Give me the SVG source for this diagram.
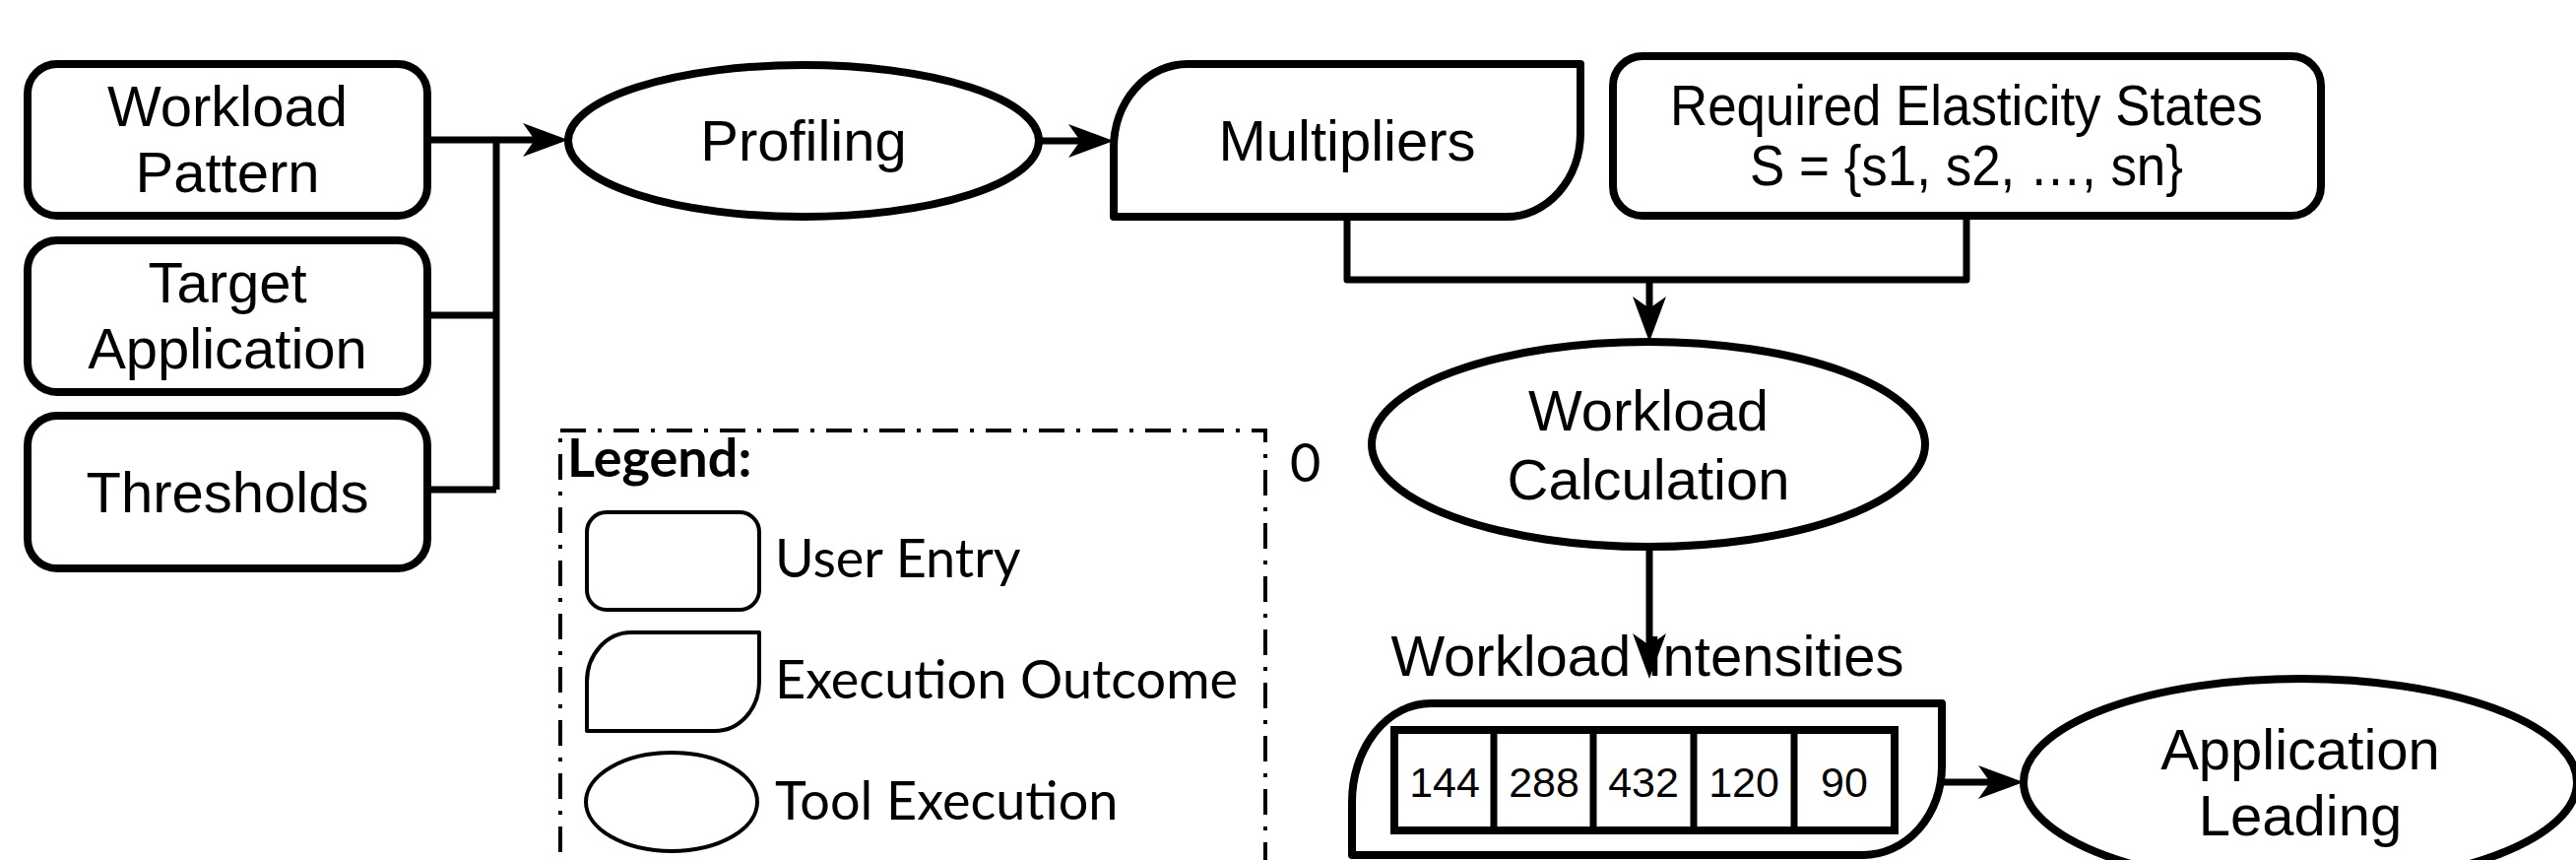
<svg xmlns="http://www.w3.org/2000/svg" width="2616" height="873" viewBox="0 0 2616 873">
<style>
.node{fill:#fff;stroke:#000;stroke-width:8;stroke-linejoin:round}
.leg{fill:#fff;stroke:#000;stroke-width:4;stroke-linejoin:round}
.conn{fill:none;stroke:#000;stroke-width:7;stroke-linejoin:round}
.t{font-family:"Liberation Sans",Arial,sans-serif;font-size:58px;fill:#000;text-anchor:middle}
.cell{font-family:"Liberation Sans",Arial,sans-serif;font-size:43px;fill:#000;text-anchor:middle}
.lt{font-family:Lato,"Open Sans",sans-serif;font-size:54px;fill:#000}
</style>
<defs>
<marker id="arr" markerUnits="userSpaceOnUse" markerWidth="48" markerHeight="36" refX="21" refY="17" orient="auto" overflow="visible">
<path d="M0,0 L46,17 L0,34 L12,17 Z" fill="#000"/>
</marker>
</defs>
<rect width="2616" height="873" fill="#fff"/>

<g id="connectors">
<path class="conn" d="M434,142 H552" marker-end="url(#arr)"/>
<path class="conn" d="M504,497 V142"/>
<path class="conn" d="M434,320 H504"/>
<path class="conn" d="M434,497 H504"/>
<path class="conn" d="M1056,143 H1106" marker-end="url(#arr)"/>
<path class="conn" d="M1368,220 V284 H1997 V219"/>
<path class="conn" d="M1675,284 V322" marker-end="url(#arr)"/>
<path class="conn" d="M1675,555 V664" marker-end="url(#arr)"/>
<path class="conn" d="M1972,794 H2030" marker-end="url(#arr)"/>
</g>

<g id="workload-pattern">
<rect class="node" x="28" y="65" width="406" height="154" rx="30"/>
<text class="t" x="231" y="128">Workload</text>
<text class="t" x="231" y="195">Pattern</text>
</g>
<g id="target-application">
<rect class="node" x="28" y="244" width="406" height="154" rx="30"/>
<text class="t" x="231" y="307">Target</text>
<text class="t" x="231" y="374">Application</text>
</g>
<g id="thresholds">
<rect class="node" x="28" y="422" width="406" height="155" rx="30"/>
<text class="t" x="231" y="520">Thresholds</text>
</g>

<g id="profiling">
<ellipse class="node" cx="816" cy="143" rx="239" ry="77"/>
<text class="t" x="816" y="163">Profiling</text>
</g>

<g id="multipliers">
<path class="node" d="M1131,220 L1131,150 A75,85 0 0 1 1206,65 L1605,65 L1605,135 A75,85 0 0 1 1530,220 Z"/>
<text class="t" x="1368" y="163">Multipliers</text>
</g>

<g id="required-elasticity-states">
<rect class="node" x="1638" y="57" width="719" height="162" rx="30"/>
<text class="t" x="1997" y="127" font-size="52" textLength="602" lengthAdjust="spacingAndGlyphs">Required Elasticity States</text>
<text class="t" x="1997" y="188" font-size="52" textLength="440" lengthAdjust="spacingAndGlyphs">S = {s1, s2, …, sn}</text>
</g>

<g id="workload-calculation">
<ellipse class="node" cx="1674" cy="451" rx="281" ry="104"/>
<text class="t" x="1674" y="437">Workload</text>
<text class="t" x="1674" y="507">Calculation</text>
</g>

<g id="workload-intensities">
<text class="t" x="1673" y="686">Workload Intensities</text>
<path class="node" d="M1373,868 L1373,814 A80,100 0 0 1 1453,714 L1972,714 L1972,778 A80,90 0 0 1 1892,868 Z"/>
<rect x="1416" y="741" width="508" height="102" fill="#fff" stroke="#000" stroke-width="8"/>
<path d="M1517,741 V843 M1618,741 V843 M1720,741 V843 M1822,741 V843" stroke="#000" stroke-width="7" fill="none"/>
<text class="cell" x="1467" y="809">144</text>
<text class="cell" x="1568" y="809">288</text>
<text class="cell" x="1669" y="809">432</text>
<text class="cell" x="1771" y="809">120</text>
<text class="cell" x="1873" y="809">90</text>
</g>

<g id="application-leading">
<ellipse class="node" cx="2336" cy="794" rx="281" ry="105"/>
<text class="t" x="2336" y="781">Application</text>
<text class="t" x="2336" y="848">Leading</text>
</g>

<g id="legend">
<rect x="569" y="437" width="716" height="470" fill="none" stroke="#000" stroke-width="4" stroke-dasharray="26,12,4,12"/>
<text class="lt" x="576" y="484" font-weight="bold">Legend:</text>
<rect class="leg" x="596" y="520" width="175" height="99" rx="20"/>
<text class="lt" x="787" y="586">User Entry</text>
<path class="leg" d="M596,742 L596,692 A45,50 0 0 1 641,642 L771,642 L771,692 A45,50 0 0 1 726,742 Z"/>
<text class="lt" x="787" y="709">Execution Outcome</text>
<ellipse class="leg" cx="682" cy="814" rx="87" ry="50"/>
<text class="lt" x="787" y="832">Tool Execution</text>
<text class="lt" x="1310" y="489" font-size="40">0</text>
</g>
</svg>
